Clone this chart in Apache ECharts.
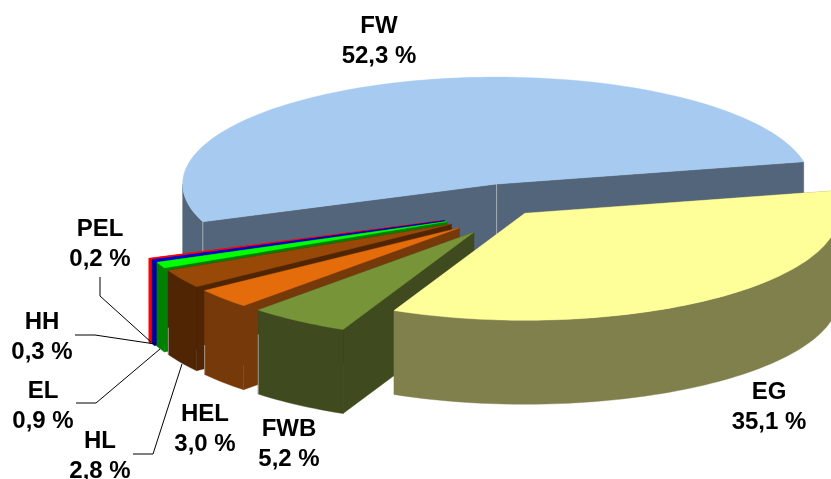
<!DOCTYPE html>
<html>
<head>
<meta charset="utf-8">
<style>html,body{margin:0;padding:0;background:#fff}#chart{width:831px;height:479px}</style>
<script src="https://cdn.jsdelivr.net/npm/echarts@6/dist/echarts.min.js"></script>
</head>
<body>
<div id="chart"></div>
<script>
// Shares in percent, listed counter-clockwise from the first cut edge; this is also paint order.
const categories = ['FW', 'PEL', 'HH', 'EL', 'HL', 'HEL', 'FWB', 'EG'];
const shares = [52.3, 0.2, 0.3, 0.9, 2.8, 3.0, 5.2, 35.1];

// Per-slice appearance
const topColors = ['#A6CAF0', '#FF0000', '#0000E0', '#00FF00', '#984807', '#E46C0A', '#779439', '#FFFF99'];
const sideColors = ['#53657B', '#FF0000', '#000099', '#008000', '#4F2504', '#76390A', '#3F4A1E', '#80804D'];
const explosions = [0.24, 0.25, 0.245, 0.24, 0.24, 0.24, 0.24, 0.045];
// Small hand placement on top of the explosion, in pixels.
const nudges = [[1.8, -2.3], [0, 0], [0, 0], [0, 0], [0, 0], [0, 0], [0, 0], [0, -1.5]];
// Where the pale corner seam starts, as a fraction of the wall height (null: no seam).
const seamStarts = [0, null, null, null, 0.68, 0.65, 0.29, null];

// Projection of the tilted disc
const pivot = { x: 516, y: 211 };
const radiusX = 314, radiusY = 107, wallHeight = 84, firstEdgeDeg = 12;

// Text blocks and their leader lines
const labelLayout = {
  FW:  { x: 379, y: 26 },
  PEL: { x: 100, y: 229, leader: [[100, 277], [100, 296], [151, 342]] },
  HH:  { x: 42,  y: 322, leader: [[75, 335], [95, 335], [155, 344]] },
  EL:  { x: 43,  y: 391, leader: [[76, 403], [96, 403], [160, 349]] },
  HL:  { x: 100, y: 441, leader: [[133, 454], [153, 454], [182, 364]] },
  HEL: { x: 205, y: 414 },
  FWB: { x: 289, y: 429 },
  EG:  { x: 769, y: 392 }
};
const labelFont = { fontFamily: 'Liberation Sans', fontWeight: 'bold', fontSize: 24 };
const labelLineGap = 30;

const rad = d => d * Math.PI / 180;
const total = shares.reduce((s, v) => s + v, 0);

function sliceGeometry(index) {
  const before = shares.slice(0, index).reduce((s, v) => s + v, 0);
  const from = firstEdgeDeg + before / total * 360;
  const to = from + shares[index] / total * 360;
  const mid = rad((from + to) / 2);
  const cx = pivot.x + explosions[index] * radiusX * Math.cos(mid) + nudges[index][0];
  const cy = pivot.y - explosions[index] * radiusY * Math.sin(mid) + nudges[index][1];
  const at = deg => [cx + radiusX * Math.cos(rad(deg)), cy - radiusY * Math.sin(rad(deg))];
  const arc = (a, b) => {
    const steps = Math.max(2, Math.ceil(Math.abs(b - a) / 1.5));
    const pts = [];
    for (let i = 0; i <= steps; i++) pts.push(at(a + (b - a) * i / steps));
    return pts;
  };
  return { apex: [cx, cy], from, to, at, arc };
}

const drop = p => [p[0], p[1] + wallHeight];
const poly = (points, fill) => ({
  type: 'polygon', shape: { points },
  style: { fill, stroke: fill, lineWidth: 0.4 }
});

function renderSlice(params, api) {
  const i = params.dataIndex;
  const g = sliceGeometry(i);
  const side = sideColors[i], top = topColors[i];
  const children = [];
  const edgeA = g.at(g.from), edgeB = g.at(g.to);

  // cut walls behind the rim and lid
  [edgeA, edgeB].forEach(e => {
    children.push(poly([g.apex, e, drop(e), drop(g.apex)], side));
  });

  // rim: only the near half of the disc faces the viewer
  const a = Math.max(g.from, 180), b = Math.min(g.to, 360);
  if (b > a) {
    const rim = g.arc(a, b);
    children.push(poly(rim.concat(rim.map(drop).reverse()), side));
  }

  children.push(poly([g.apex].concat(g.arc(g.from, g.to)), top));

  // pale seams on the wall corners
  const seam = seamStarts[i];
  if (seam !== null) {
    const corners = i === 0 ? [g.apex, edgeB] : [edgeA];
    corners.forEach(c => children.push({
      type: 'line',
      shape: { x1: c[0], y1: c[1] + seam * wallHeight, x2: c[0], y2: c[1] + wallHeight },
      style: { stroke: 'rgba(205,205,205,0.65)', lineWidth: 1 }
    }));
  }
  return { type: 'group', children };
}

// Labels and leaders sit in their own series so that they paint above every slice.
function renderLabel(params, api) {
  const i = params.dataIndex;
  const name = categories[i];
  const place = labelLayout[name];
  const valueText = shares[i].toFixed(1).replace('.', ',') + ' %';
  const children = [
    { type: 'text', style: Object.assign({ text: name, x: place.x, y: place.y, align: 'center', verticalAlign: 'middle', fill: '#000' }, labelFont) },
    { type: 'text', style: Object.assign({ text: valueText, x: place.x, y: place.y + labelLineGap, align: 'center', verticalAlign: 'middle', fill: '#000' }, labelFont) }
  ];
  if (place.leader) {
    children.push({ type: 'polyline', shape: { points: place.leader }, style: { stroke: '#000', fill: 'none', lineWidth: 1 } });
  }
  return { type: 'group', children };
}

const rows = categories.map((c, i) => [c, shares[i]]);
const chart = echarts.init(document.getElementById('chart'));
chart.setOption({
  animation: false,
  backgroundColor: '#fff',
  series: [
    { type: 'custom', coordinateSystem: 'none', renderItem: renderSlice, data: rows, silent: true, clip: false, z: 1 },
    { type: 'custom', coordinateSystem: 'none', renderItem: renderLabel, data: rows, silent: true, clip: false, z: 2 }
  ]
});
</script>
</body>
</html>
